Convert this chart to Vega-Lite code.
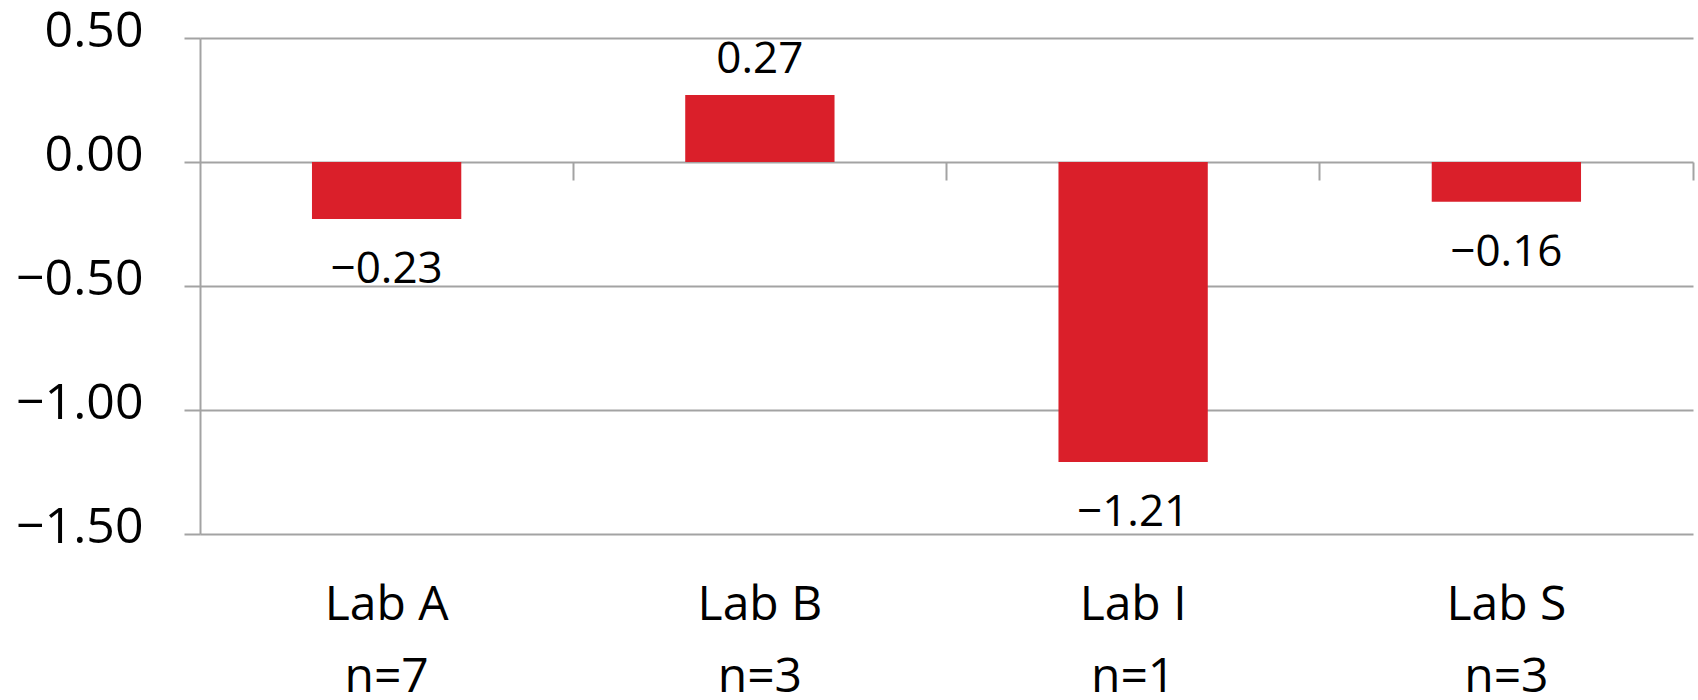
{
  "$schema": "https://vega.github.io/schema/vega-lite/v6.json",
  "width": 1493,
  "height": 496,
  "autosize": {"type": "none"},
  "padding": {"left": 200, "top": 38, "right": 5, "bottom": 166},
  "background": "white",
  "config": {
    "view": {"stroke": null},
    "font": "Open Sans",
    "axis": {"gridColor": "#a3a3a3", "gridWidth": 2, "tickColor": "#a3a3a3", "tickWidth": 2, "domainColor": "#a3a3a3", "domainWidth": 2}
  },
  "data": {
    "values": [
      {"category": "Lab A\nn=7", "value": -0.23},
      {"category": "Lab B\nn=3", "value": 0.27},
      {"category": "Lab I\nn=1", "value": -1.21},
      {"category": "Lab S\nn=3", "value": -0.16}
    ]
  },
  "encoding": {
    "x": {
      "field": "category",
      "type": "nominal",
      "sort": null,
      "scale": {"paddingInner": 0.6, "paddingOuter": 0.3},
      "axis": {
        "title": null,
        "orient": "bottom",
        "offset": -372,
        "domain": false,
        "grid": false,
        "bandPosition": 1.75,
        "tickSize": 18,
        "labelAngle": 0,
        "labelExpr": "split(datum.label, '\\n')",
        "labelFontSize": 48,
        "labelColor": "#000000",
        "labelLineHeight": 72,
        "labelBaseline": "top",
        "labelPadding": 401
      }
    },
    "y": {
      "field": "value",
      "type": "quantitative",
      "scale": {"domain": [-1.5, 0.5], "nice": false, "zero": false},
      "axis": {
        "title": null,
        "values": [-1.5, -1, -0.5, 0, 0.5],
        "format": ".2f",
        "tickSize": 16,
        "labelFontSize": 50,
        "labelColor": "#000000",
        "labelPadding": 41,
        "labelOffset": -7,
        "domain": true,
        "grid": true
      }
    }
  },
  "layer": [
    {
      "mark": {"type": "bar", "color": "#da1f2a"}
    },
    {
      "transform": [{"filter": "datum.value >= 0"}],
      "mark": {"type": "text", "baseline": "bottom", "dy": -13, "fontSize": 44, "color": "#000000"},
      "encoding": {"text": {"field": "value", "type": "quantitative", "format": ".2f"}}
    },
    {
      "transform": [{"filter": "datum.value < 0"}],
      "mark": {"type": "text", "baseline": "top", "dy": 29, "fontSize": 44, "color": "#000000"},
      "encoding": {"text": {"field": "value", "type": "quantitative", "format": ".2f"}}
    }
  ]
}
